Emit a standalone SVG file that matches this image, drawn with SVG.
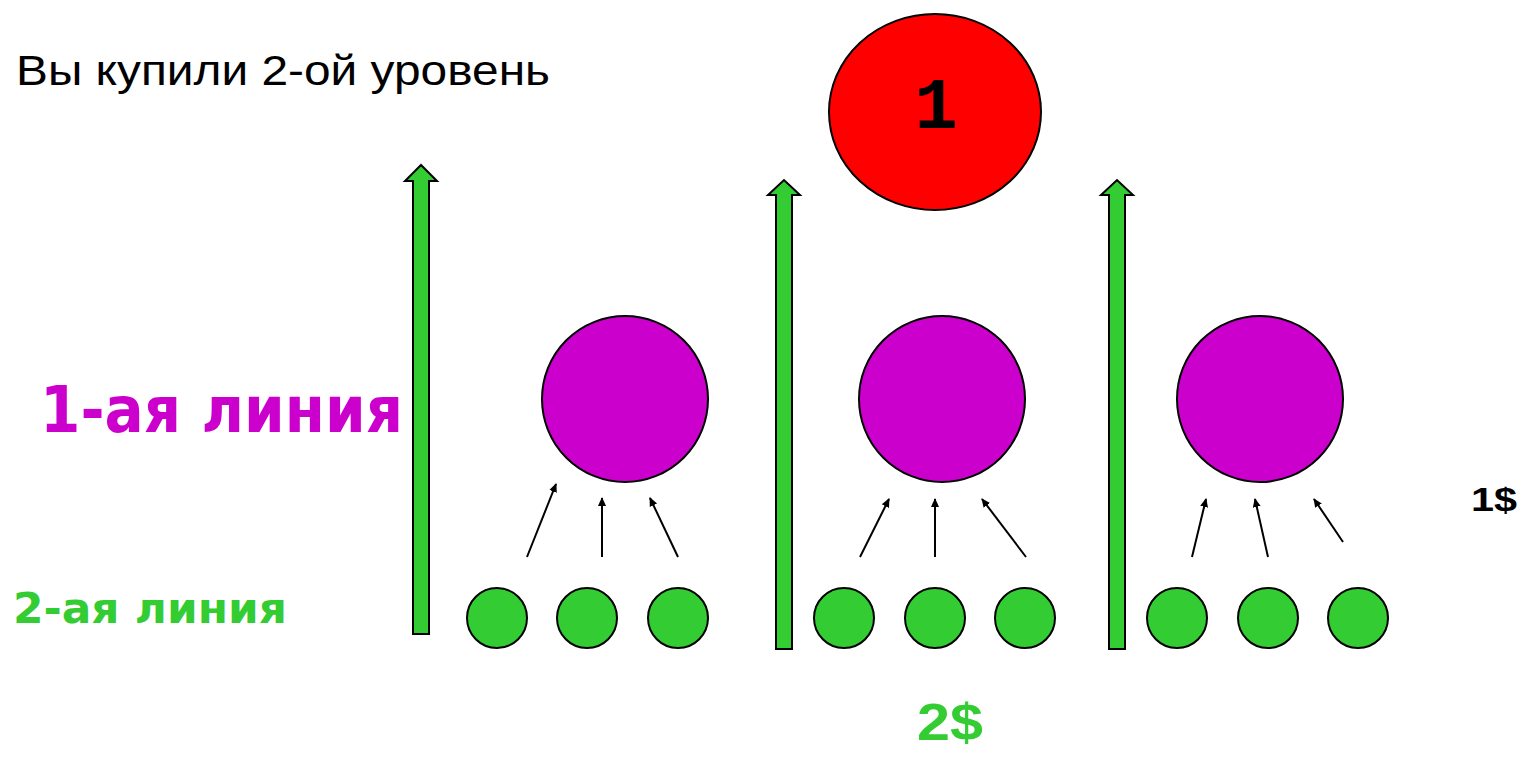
<svg xmlns="http://www.w3.org/2000/svg" width="1522" height="757" viewBox="0 0 1522 757">
<defs>
<style>
.bold{font-family:"DejaVu Sans","Liberation Sans",sans-serif;font-weight:bold}
.arialb{font-family:"Liberation Sans",Arial,sans-serif;font-weight:bold}
.purple{fill:#CC00CC;stroke:#000;stroke-width:2}
.green{fill:#33CC33;stroke:#000;stroke-width:2}
.big{fill:#33CC33;stroke:#000;stroke-width:2}
.thin{stroke:#000;stroke-width:2;fill:none;marker-end:url(#ah)}
</style>
<marker id="ah" markerWidth="10" markerHeight="10" refX="8" refY="5" orient="auto" markerUnits="userSpaceOnUse">
<path d="M0,1 L9,5 L0,9 Z" fill="#000"/>
</marker>
</defs>
<rect width="1522" height="757" fill="#fff"/>
<text x="16" y="85" font-family="Liberation Sans, Arial, sans-serif" font-size="42" fill="#000" textLength="534" lengthAdjust="spacingAndGlyphs">Вы купили 2-ой уровень</text>
<text class="bold" x="40" y="432" font-size="64" fill="#CC00CC" textLength="363" lengthAdjust="spacingAndGlyphs">1-ая линия</text>
<text class="bold" x="13" y="623" font-size="42" fill="#33CC33" textLength="274" lengthAdjust="spacingAndGlyphs">2-ая линия</text>
<text class="arialb" x="917" y="740" font-size="52" fill="#33CC33" textLength="66" lengthAdjust="spacingAndGlyphs">2$</text>
<text class="arialb" x="1471" y="511" font-size="34" fill="#000" textLength="46" lengthAdjust="spacingAndGlyphs">1$</text>
<g id="top">
<ellipse cx="935" cy="112" rx="106" ry="98" fill="#FF0000" stroke="#000" stroke-width="2"/>
<text x="936" y="128" font-family="Liberation Mono, Courier New, monospace" font-weight="bold" font-size="72" text-anchor="middle" fill="#000">1</text>
</g>
<g id="p1"><circle class="purple" cx="625" cy="399" r="83"/></g>
<g id="p2"><circle class="purple" cx="942" cy="399" r="83"/></g>
<g id="p3"><circle class="purple" cx="1260" cy="399" r="83"/></g>
<g id="g1"><circle class="green" cx="497" cy="618" r="30"/></g>
<g id="g2"><circle class="green" cx="587" cy="618" r="30"/></g>
<g id="g3"><circle class="green" cx="678" cy="618" r="30"/></g>
<g id="g4"><circle class="green" cx="844" cy="618" r="30"/></g>
<g id="g5"><circle class="green" cx="935" cy="618" r="30"/></g>
<g id="g6"><circle class="green" cx="1025" cy="618" r="30"/></g>
<g id="g7"><circle class="green" cx="1177" cy="618" r="30"/></g>
<g id="g8"><circle class="green" cx="1268" cy="618" r="30"/></g>
<g id="g9"><circle class="green" cx="1358" cy="618" r="30"/></g>
<g id="connectors">
<path class="big" d="M413,634 L413,181 L405,181 L421,165 L437,181 L429,181 L429,634 Z"/>
<path class="big" d="M776,649 L776,195 L768,195 L784,180 L800,195 L792,195 L792,649 Z"/>
<path class="big" d="M1109,649 L1109,195 L1101,195 L1117,180 L1133,195 L1125,195 L1125,649 Z"/>
<line class="thin" x1="527" y1="557" x2="556" y2="484"/>
<line class="thin" x1="602" y1="557" x2="602" y2="498"/>
<line class="thin" x1="678" y1="557" x2="650" y2="498"/>
<line class="thin" x1="860" y1="557" x2="889" y2="499"/>
<line class="thin" x1="935" y1="557" x2="935" y2="499"/>
<line class="thin" x1="1026" y1="557" x2="982" y2="499"/>
<line class="thin" x1="1192" y1="557" x2="1206" y2="499"/>
<line class="thin" x1="1268" y1="557" x2="1255" y2="499"/>
<line class="thin" x1="1343" y1="542" x2="1314" y2="499"/>
</g>
</svg>
